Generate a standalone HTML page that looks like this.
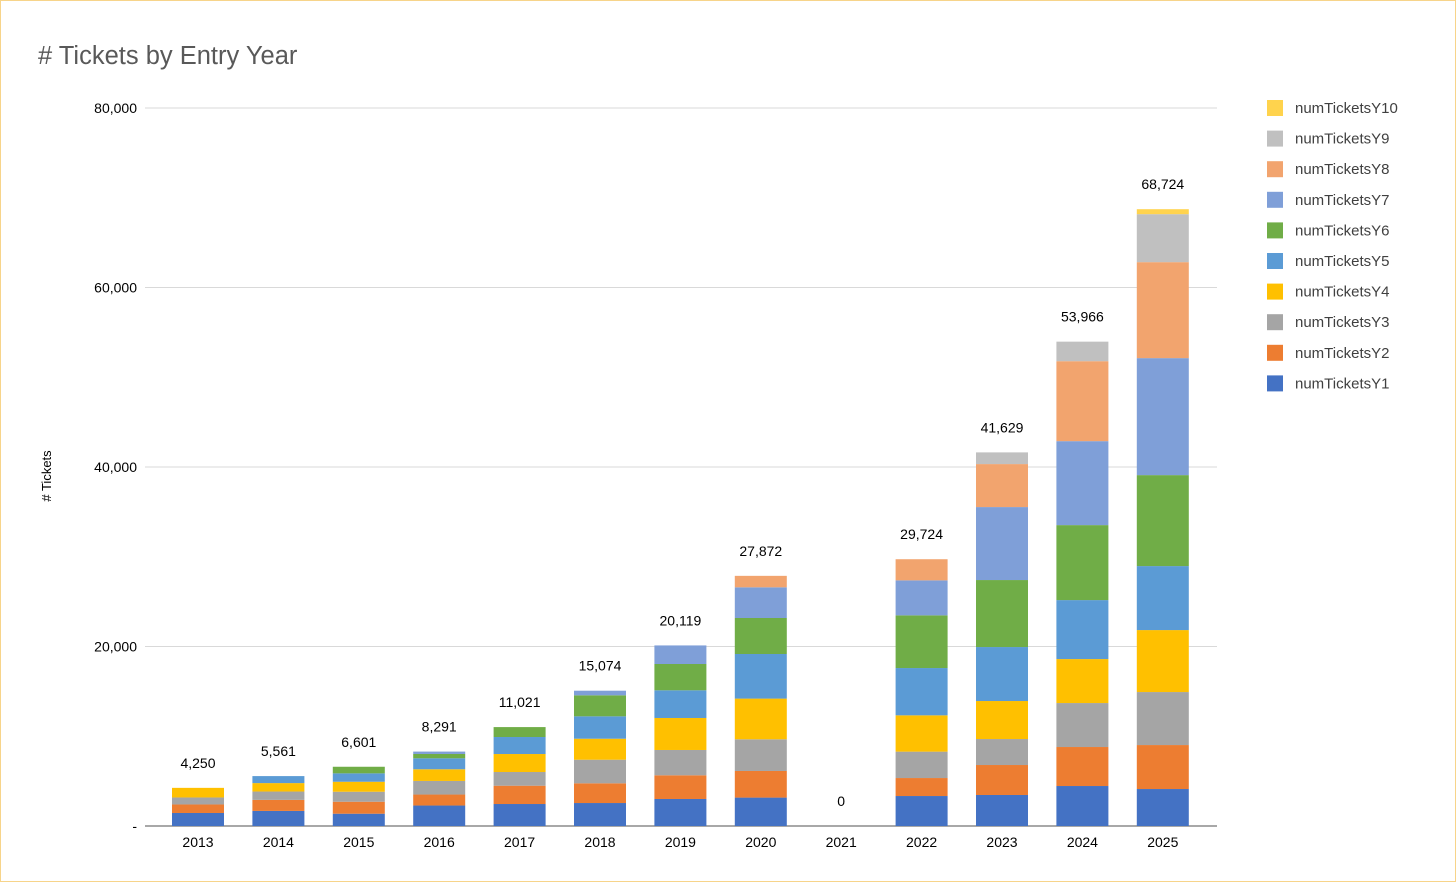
<!DOCTYPE html>
<html><head><meta charset="utf-8"><style>
html,body{margin:0;padding:0;background:#fff;}
body{width:1456px;height:882px;overflow:hidden;position:relative;font-family:"Liberation Sans",sans-serif;}
#frame{position:absolute;left:0;top:0;width:1454px;height:880px;border:1px solid #f7d48a;}
</style></head><body>
<div id="frame"></div>
<svg id="chart" width="1456" height="882" style="position:absolute;left:0;top:0">
<text x="38" y="64" font-size="25.5" fill="#595959" font-family="Liberation Sans, sans-serif"># Tickets by Entry Year</text>
<text transform="translate(51,476) rotate(-90)" text-anchor="middle" font-size="13" fill="#000"># Tickets</text>
</svg>
<script>
const categories=["2013","2014","2015","2016","2017","2018","2019","2020","2021","2022","2023","2024","2025"];
const seriesNames=["numTicketsY1","numTicketsY2","numTicketsY3","numTicketsY4","numTicketsY5","numTicketsY6","numTicketsY7","numTicketsY8","numTicketsY9","numTicketsY10"];
const seriesColors=["#4472c4","#ed7d31","#a5a5a5","#ffc000","#5b9bd5","#70ad47","#7f9fd8","#f2a46e","#c0c0c0","#ffd34d"];
const Y1=[1450,1680,1370,2280,2450,2560,3010,3165,0,3340,3455,4455,4120];
const Y2=[950,1230,1335,1225,2040,2195,2640,2965,0,2005,3340,4345,4900];
const Y3=[780,930,1113,1515,1525,2630,2820,3530,0,2940,2895,4900,5905];
const Y4=[1070,940,1113,1300,2005,2340,3565,4535,0,4045,4235,4900,6905];
const Y5=[0,781,935,1225,1895,2495,3085,4970,0,5270,6015,6570,7130];
const Y6=[0,0,735,480,1106,2340,2930,4010,0,5870,7465,8355,10135];
const Y7=[0,0,0,266,0,515,2069,3420,0,3900,8130,9355,13035];
const Y8=[0,0,0,0,0,0,0,1277,0,2354,4790,8910,10695];
const Y9=[0,0,0,0,0,0,0,0,0,0,1304,2176,5345];
const Y10=[0,0,0,0,0,0,0,0,0,0,0,0,554];
const totals=[4250,5561,6601,8291,11021,15074,20119,27872,0,29724,41629,53966,68724];
const yTicks=[0,20000,40000,60000,80000];
const yTickLabels=["-","20,000","40,000","60,000","80,000"];
const series=[Y1,Y2,Y3,Y4,Y5,Y6,Y7,Y8,Y9,Y10];

const svg=document.getElementById('chart');
const NS="http://www.w3.org/2000/svg";
const plotL=145,plotR=1217,y0=826,yTop=108,yMax=80000;
const yScale=v=>y0-(v/yMax)*(y0-yTop);
const x0=198,step=80.4,barW=52;
const xScale=i=>x0+i*step;
function mk(tag,attrs){const e=document.createElementNS(NS,tag);for(const k in attrs)e.setAttribute(k,attrs[k]);svg.appendChild(e);return e;}

yTicks.forEach((t,i)=>{
  if(t>0){const g=mk('line',{x1:plotL,x2:plotR,y1:yScale(t),y2:yScale(t),stroke:'#d9d9d9','stroke-width':1});
  
  }
  const tx=mk('text',{x:137,y:yScale(t)+5,'text-anchor':'end','font-size':14,fill:'#000'});
  tx.textContent=yTickLabels[i];
  
  
});
const ax=mk('line',{x1:plotL,x2:plotR,y1:y0,y2:y0,stroke:'#8c8c8c','stroke-width':1.5});



categories.forEach((c,i)=>{
  let cum=0;
  series.forEach((s,k)=>{
    const v=s[i];if(v<=0)return;
    const yA=yScale(cum),yB=yScale(cum+v);
    const r=mk('rect',{x:xScale(i)-barW/2,y:yB,width:barW,height:yA-yB,fill:seriesColors[k]});
    
    
    cum+=v;
  });
  const lbl=mk('text',{x:xScale(i),y:yScale(totals[i])-20,'text-anchor':'middle','font-size':14,fill:'#000'});
  lbl.textContent=totals[i].toLocaleString('en-US');
  
  
  const xl=mk('text',{x:xScale(i),y:847,'text-anchor':'middle','font-size':14,fill:'#000'});
  xl.textContent=c;
  
  
});

for(let j=0;j<10;j++){
  const k=9-j;const yy=108+j*30.6;
  const sq=mk('rect',{x:1267,y:yy-8,width:16,height:16,fill:seriesColors[k]});
  
  
  const t=mk('text',{x:1295,y:yy+5,'font-size':15,fill:'#404040'});
  t.textContent=seriesNames[k];
  
  
}
</script>
</body></html>
